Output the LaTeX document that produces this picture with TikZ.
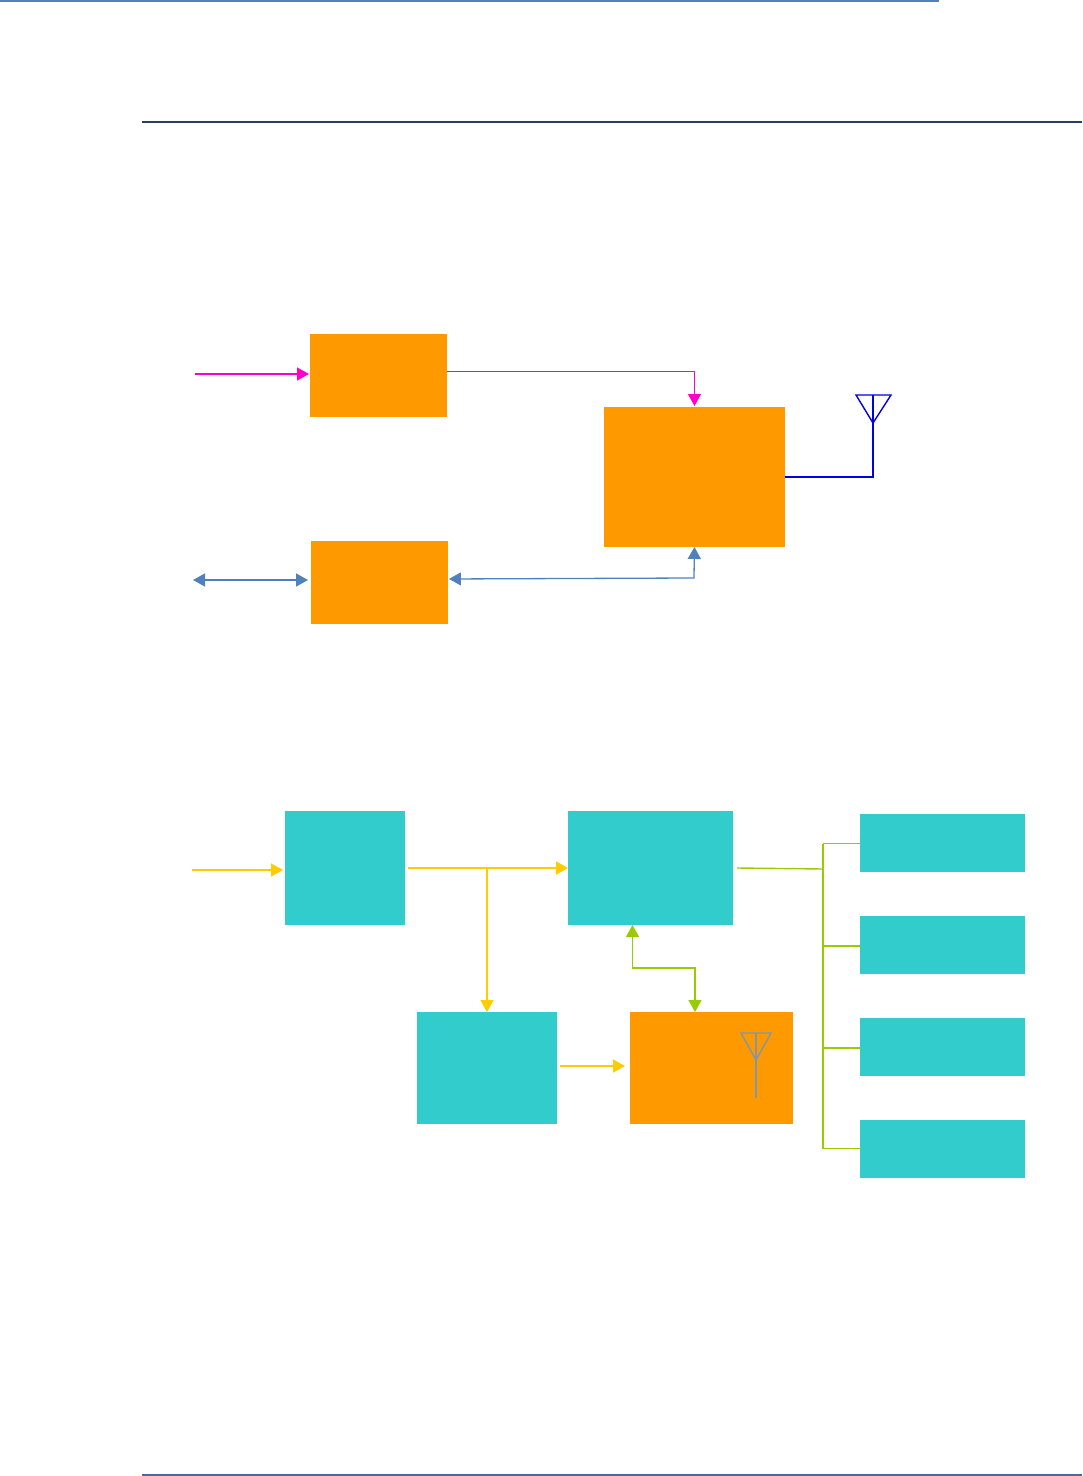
\documentclass[tikz,border=0pt]{standalone}
\usepackage{xcolor}
\usetikzlibrary{calc,positioning,arrows.meta}
\definecolor{boxorange}{RGB}{255,153,0}
\definecolor{boxteal}{RGB}{51,204,204}
\definecolor{linemagenta}{RGB}{255,0,204}
\definecolor{linesteel}{RGB}{79,129,189}
\definecolor{lineblue}{RGB}{0,0,230}
\definecolor{lineyellow}{RGB}{255,204,0}
\definecolor{linegreen}{RGB}{153,204,0}
\definecolor{linegrey}{RGB}{128,150,170}
\definecolor{ruledark}{RGB}{38,64,100}
\definecolor{rulefoot}{RGB}{68,108,160}
\def\px{0.2mm}

\begin{document}
\begin{tikzpicture}[
  x=0.02cm, y=-0.02cm,
  obox/.style={rectangle, fill=boxorange, anchor=north west,
    inner sep=0pt, outer sep=0pt},
  tbox/.style={rectangle, fill=boxteal, anchor=north west,
    inner sep=0pt, outer sep=0pt},
  magline/.style={linemagenta, line width=1*\px, -{Triangle[length=12*\px, width=13*\px]}},
  steelline/.style={linesteel, line width=1.5*\px, {Triangle[length=12*\px, width=13*\px]}-{Triangle[length=12*\px, width=13*\px]}},
  yelline/.style={lineyellow, line width=1.5*\px, -{Triangle[length=12*\px, width=13*\px]}},
  grnline/.style={linegreen, line width=1.4*\px},
  grnarrow/.style={grnline, {Triangle[length=12*\px, width=13*\px]}-{Triangle[length=12*\px, width=13*\px]}},
]
  \useasboundingbox (0,0) rectangle (1082,1476);

  % === PAGE RULES ===
  \coordinate (topl) at (0,1);
  \coordinate (topr) at (939,1);
  \coordinate (headl) at (142,122);
  \coordinate (headr) at (1082,122);
  \coordinate (footl) at (142,1475);
  \coordinate (footr) at (1082,1475);
  \draw[linesteel, line width=2.2*\px] (topl) -- (topr);
  \draw[ruledark, line width=2*\px] (headl) -- (headr);
  \draw[rulefoot, line width=2*\px] (footl) -- (footr);

  % === UPPER DIAGRAM ===
  \node[obox, minimum width=137*\px, minimum height=83*\px] (inbox) at (310,334) {};
  \node[obox, minimum width=137*\px, minimum height=83*\px] (iobox) at (311,541) {};
  \node[obox, minimum width=181*\px, minimum height=140*\px] (mainbox) at (604,407) {};

  % Free ends
  \coordinate (insrc) at (195,374);
  \coordinate (iosrc) at (193,580);
  \coordinate (antfeed) at (873,423);
  \coordinate (antl) at (856,395);
  \coordinate (antr) at (891,395);
  \coordinate (anttop) at (873,395);

  \draw[magline, line width=1.5*\px, shorten >=1*\px] (insrc) -- (insrc -| inbox.west);
  \draw[magline, shorten >=1*\px] ([yshift=4*\px]inbox.east) -| (mainbox.north);
  \draw[steelline, shorten >=3*\px] (iosrc) -- (iosrc -| iobox.west);
  \draw[steelline, line width=1.3*\px, shorten <=1*\px] ([yshift=3.5*\px]iobox.east) -- ++(246,-1) -- (mainbox.south);

  % Antenna
  \draw[lineblue, line width=2*\px] (mainbox.east) -| (antfeed);
  \draw[lineblue, line width=1.4*\px] (antl) -- (antr) -- (antfeed) -- cycle;
  \draw[lineblue, line width=1.4*\px] (anttop) -- (antfeed);

  % === LOWER DIAGRAM ===
  \node[tbox, minimum width=120*\px, minimum height=114*\px] (srcbox) at (285,811) {};
  \node[tbox, minimum width=165*\px, minimum height=114*\px] (ctrlbox) at (568,811) {};
  \node[tbox, minimum width=140*\px, minimum height=112*\px] (convbox) at (417,1012) {};
  \node[obox, minimum width=163*\px, minimum height=112*\px] (radiobox) at (630,1012) {};

  % Output boxes
  \foreach \i/\y in {0/814, 1/916, 2/1018, 3/1120} {
    \node[tbox, minimum width=165*\px, minimum height=58*\px] (outbox\i) at (860,\y) {};
  }

  % Free ends
  \coordinate (srcin) at (192,870);
  \coordinate (srcout) at (408,868);
  \coordinate (split) at (487,868);
  \coordinate (convout) at (560,1066);
  \coordinate (radioin) at (625,1066);
  \coordinate (ctrlout) at (737,868);
  \coordinate (busjoin) at (823,869);
  \coordinate (bustop) at (823,843.5);
  \coordinate (busbot) at (823,1148.5);
  \coordinate (ctrllow) at (632.5,925);
  \coordinate (radiotop) at (695,1012);
  \coordinate (midl) at (632.5,968);
  \coordinate (midr) at (695,968);

  % Yellow links
  \draw[yelline, shorten >=2*\px] (srcin) -- (srcin -| srcbox.west);
  \draw[yelline, line width=2*\px] (srcout) -- (srcout -| ctrlbox.west);
  \draw[yelline] (split) -- (split |- convbox.north);
  \draw[yelline] (convout) -- (radioin);

  % Green links
  \draw[grnline] (ctrlout) -- (busjoin);
  \draw[grnline] (bustop) -- (busbot);
  \foreach \i/\y in {0/843.5, 1/946, 2/1048, 3/1148.5} {
    \draw[grnline] (bustop |- 0,\y) -- (outbox\i.west |- 0,\y);
  }
  \draw[grnarrow] (ctrllow) -- (midl) -- (midr) -- (radiotop);

  % Antenna on radio box
  \coordinate (rantl) at (741,1033);
  \coordinate (rantr) at (771,1033);
  \coordinate (rantm) at (756,1060);
  \coordinate (ranttop) at (756,1033);
  \coordinate (rantbot) at (756,1098);
  \draw[linegrey, line width=1.4*\px] (rantl) -- (rantr) -- (rantm) -- cycle;
  \draw[linegrey, line width=1.4*\px] (ranttop) -- (rantbot);
\end{tikzpicture}
\end{document}
